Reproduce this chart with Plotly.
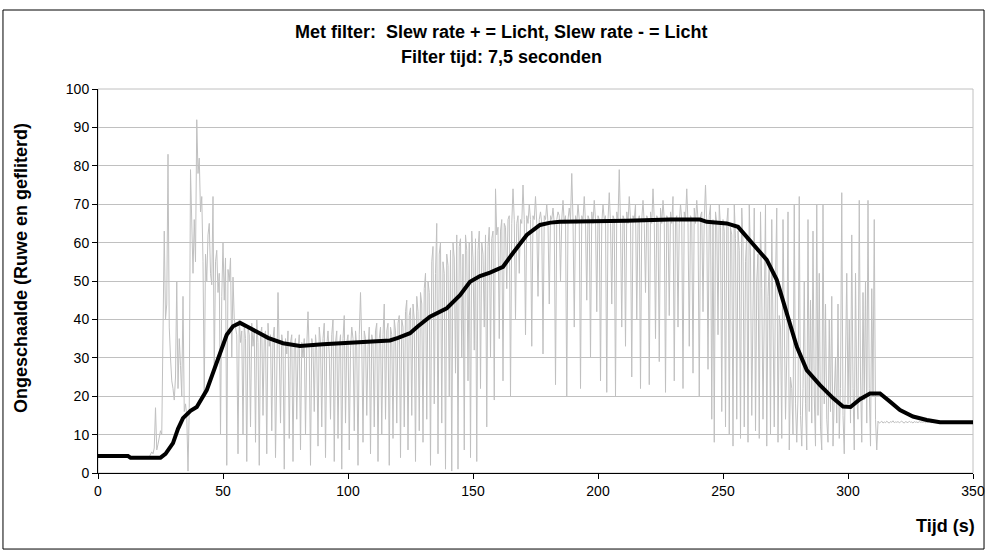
import plotly.graph_objects as go

# ruwe meting, 1 waarde per 0,5 s vanaf t = 0
raw_step = 0.5
raw_values = [
    4.5, 4.5, 4.6, 4.5, 4.4, 4.5, 4.5, 4.6, 4.5, 4.5, 4.4, 4.5, 4.5, 4.5, 4.6, 4.5, 4.5, 4.4, 4.5, 4.5,
    4.5, 4.5, 4.4, 4.5, 4.5, 4.3, 4.0, 4.0, 4.1, 4.0, 3.9, 4.0, 4.0, 4.1, 4.0, 4.0, 4.0, 3.9, 4.0, 4.1,
    4.0, 4.2, 4.8, 5.5, 5.0, 6.5, 17, 6, 7.5, 9, 11, 10, 45, 63, 40, 44, 83, 38, 30, 24,
    22, 19, 25, 50, 22, 35, 28, 20, 46, 16, 18, 15, 0.5, 17, 79, 60, 52, 66, 55, 92,
    78, 82, 68, 72, 55, 20, 57, 50, 62, 65, 52, 49, 72, 26, 55, 58, 47, 52, 10, 46,
    60, 45, 56, 2, 53, 50, 56, 30, 51, 40, 38, 36, 5, 40, 34, 37, 10, 39, 35, 3,
    38, 36, 12, 39, 33, 37, 8, 40, 34, 2, 36, 38, 15, 35, 37, 5, 39, 33, 36, 11,
    35, 38, 4, 34, 47, 32, 13, 36, 33, 1, 35, 31, 37, 9, 34, 36, 3, 33, 35, 14,
    32, 36, 6, 34, 30, 35, 10, 33, 42, 31, 2, 35, 33, 16, 36, 32, 7, 38, 34, 12,
    35, 39, 4, 33, 37, 31, 14, 36, 40, 3, 34, 37, 9, 33, 36, 1, 35, 41, 13, 34,
    36, 6, 32, 38, 35, 11, 37, 33, 2, 36, 47, 34, 8, 37, 35, 15, 33, 38, 5, 36,
    34, 12, 37, 39, 3, 35, 38, 10, 36, 44, 14, 37, 39, 2, 38, 36, 9, 40, 37, 13,
    39, 41, 4, 40, 38, 12, 42, 45, 6, 41, 43, 15, 44, 40, 3, 46, 42, 11, 47, 44,
    8, 48, 52, 14, 50, 47, 2, 55, 59, 18, 52, 65, 5, 57, 60, 13, 55, 52, 1, 57,
    54, 20, 58, 0.5, 60, 56, 26, 62, 1, 59, 61, 30, 57, 6, 62, 58, 24, 60, 4, 63,
    56, 32, 61, 3, 58, 63, 22, 60, 57, 38, 62, 12, 59, 64, 30, 61, 63, 19, 74, 62,
    64, 35, 63, 66, 24, 65, 64, 48, 66, 67, 20, 65, 74, 66, 40, 65, 67, 52, 66, 65,
    75, 66, 36, 67, 65, 70, 66, 33, 67, 66, 72, 65, 46, 66, 68, 65, 31, 67, 66, 70,
    65, 44, 67, 66, 69, 65, 23, 66, 68, 67, 50, 66, 71, 65, 67, 20, 66, 69, 66, 78,
    66, 38, 67, 65, 70, 66, 22, 67, 66, 72, 65, 45, 67, 66, 30, 68, 65, 71, 66, 42,
    67, 66, 24, 65, 70, 66, 67, 21, 66, 73, 65, 44, 67, 66, 20, 68, 66, 79, 65, 38,
    67, 66, 33, 68, 65, 72, 66, 25, 67, 66, 70, 40, 65, 67, 22, 66, 71, 65, 47, 67,
    66, 23, 68, 65, 74, 66, 35, 67, 66, 29, 69, 65, 71, 66, 21, 67, 66, 41, 68, 65,
    72, 24, 66, 67, 38, 65, 70, 66, 22, 68, 66, 74, 65, 33, 67, 66, 26, 69, 65, 71,
    66, 20, 67, 68, 42, 66, 75, 65, 27, 67, 70, 14, 66, 8, 68, 65, 36, 70, 64, 16,
    66, 63, 12, 65, 69, 10, 64, 62, 7, 70, 61, 14, 63, 58, 9, 69, 60, 12, 55, 62,
    8, 70, 56, 15, 53, 69, 11, 50, 57, 9, 68, 48, 14, 52, 70, 7, 46, 55, 10, 66,
    44, 12, 50, 69, 8, 41, 38, 9, 66, 35, 14, 30, 68, 6, 25, 22, 10, 70, 18, 8,
    20, 72, 15, 7, 22, 50, 18, 6, 66, 16, 45, 13, 63, 20, 7, 70, 15, 52, 12, 6,
    70, 18, 44, 14, 8, 40, 16, 46, 7, 20, 30, 13, 44, 9, 22, 73, 15, 5, 25, 52,
    18, 40, 13, 62, 22, 6, 52, 20, 14, 71, 25, 8, 47, 19, 50, 13, 71, 22, 7, 48,
    20, 66, 14, 6, 13.5, 13, 13.2, 13.5, 13, 13.3, 13.1, 13.5, 13.2, 13, 13.4, 13.2, 13.6, 13.1, 13.3, 13.2,
    13.4, 13.1, 13.3, 13.5, 13.2, 13.0, 13.4, 13.3, 13.1, 13.5, 13.2, 13.3, 13.0, 13.4, 13.2, 13.3, 13.1, 13.4, 13.2, 13.3,
    13.2, 13.4, 13.1, 13.3, 13.2, 13.5, 13.2, 13.1, 13.3, 13.2, 13.4, 13.2, 13.3, 13.1, 13.2, 13.3, 13.2, 13.4, 13.2, 13.3,
    13.2, 13.3, 13.1, 13.2, 13.4, 13.2, 13.3, 13.2, 13.1, 13.3, 13.2, 13.4, 13.2, 13.3, 13.2, 13.1, 13.3, 13.2, 13.2, 13.3,
    13.2,
]
raw_time = [i * raw_step for i in range(len(raw_values))]

filt_time = [0, 12, 13, 25, 27, 30, 32, 34, 37, 39.5, 43.5, 47.5, 51.5, 54, 56.8, 60, 63.5, 68, 74, 80.8,
             90, 99.5, 110, 116.8, 120, 124.8, 128, 132.8, 139.5, 144.8, 148.8, 152.8, 156.8, 162, 166,
             171.5, 176.8, 181, 184.8, 200, 211.5, 228.8, 240.8, 243.5, 251.5, 256, 262, 267.5, 271.5,
             275.5, 279.5, 283.5, 288.8, 294, 298, 301, 304.8, 308.8, 312.8, 316.8, 320.8, 326, 331.5,
             336.8, 350]
filt_values = [4.4, 4.4, 4.0, 4.0, 5.0, 7.8, 11.5, 14.3, 16.2, 17.2, 21.6, 28.6, 36.0, 38.2, 39.1, 38.0, 36.8, 35.2, 33.8, 33.1,
               33.5, 33.9, 34.3, 34.5, 35.2, 36.4, 38.2, 40.7, 42.9, 46.3, 49.8, 51.3, 52.2, 53.7, 57.3,
               62.0, 64.6, 65.2, 65.4, 65.5, 65.7, 66.0, 66.0, 65.4, 65.0, 64.1, 59.8, 55.5, 50.3,
               41.6, 32.9, 26.8, 22.9, 19.5, 17.3, 17.2, 19.2, 20.7, 20.7, 18.6, 16.4, 14.7, 13.8,
               13.2, 13.2]

x_ticks = [0, 50, 100, 150, 200, 250, 300, 350]
y_ticks = [0, 10, 20, 30, 40, 50, 60, 70, 80, 90, 100]

font = "Arial, Liberation Sans, sans-serif"

fig = go.Figure()
fig.add_trace(go.Scatter(x=raw_time, y=raw_values, mode="lines",
                         line=dict(color="#c0c0c0", width=1), name="Ruw"))
fig.add_trace(go.Scatter(x=filt_time, y=filt_values, mode="lines",
                         line=dict(color="#000000", width=4), name="Gefilterd"))

label = dict(showarrow=False, xref="paper", yref="paper", xanchor="center", yanchor="middle")

fig.update_layout(
    width=987, height=552, autosize=False,
    margin=dict(l=98, r=14, t=89, b=79),
    paper_bgcolor="white", plot_bgcolor="white",
    showlegend=False,
    font=dict(family=font, size=14, color="black"),
    shapes=[
        dict(type="rect", xref="paper", yref="paper", x0=0, x1=1, y0=0, y1=1,
             line=dict(color="#c0c0c0", width=1), layer="below"),
        dict(type="rect", xref="paper", yref="paper", x0=-0.1086, x1=1.0126, y0=-0.198, y1=1.2057,
             line=dict(color="black", width=1)),
    ],
    annotations=[
        dict(text="<b>Met filter:  Slew rate + = Licht, Slew rate - = Licht</b>",
             x=0.4617, y=1.148, font=dict(size=18), **label),
        dict(text="<b>Filter tijd: 7,5 seconden</b>",
             x=0.4617, y=1.083, font=dict(size=18), **label),
        dict(text="<b>Ongeschaalde (Ruwe en gefliterd)</b>",
             x=-0.088, y=0.534, textangle=-90, font=dict(size=18), **label),
        dict(text="<b>Tijd (s)</b>",
             x=0.968, y=-0.138, font=dict(size=18), **label),
    ],
)
fig.update_xaxes(range=[0, 350], tickvals=x_ticks, showgrid=False, zeroline=False, automargin=False,
                 showline=True, linecolor="black", linewidth=1,
                 ticks="outside", ticklen=5, tickcolor="black")
fig.update_yaxes(range=[0, 100], tickvals=y_ticks, showgrid=True, gridcolor="#c0c0c0", gridwidth=1,
                 zeroline=False, automargin=False, showline=True, linecolor="black", linewidth=1,
                 ticks="outside", ticklen=5, tickcolor="black")

fig.write_html("out.html", config={"displayModeBar": False},
               post_script="document.body.style.margin = '0'; document.body.style.overflow = 'hidden';")
